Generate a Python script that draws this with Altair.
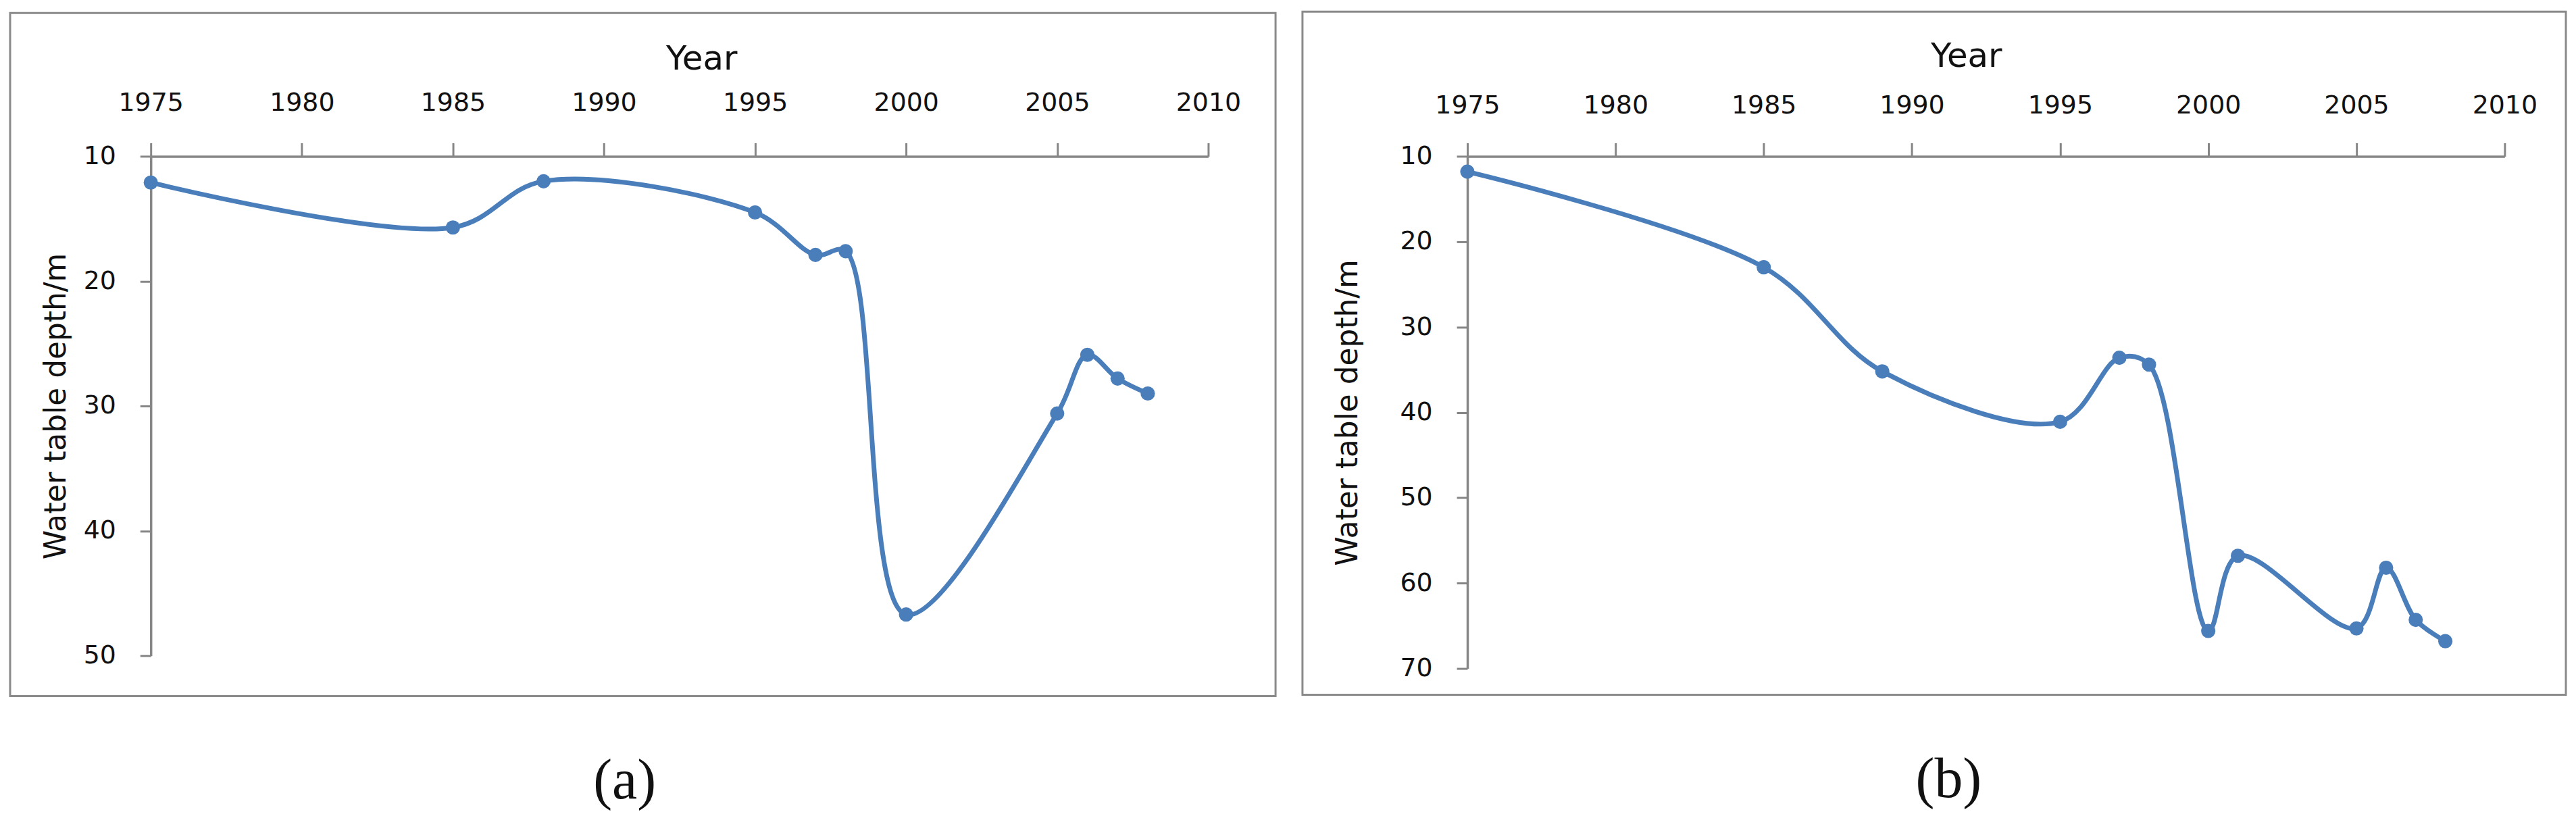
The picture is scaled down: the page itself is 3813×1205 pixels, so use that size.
import altair as alt
import pandas as pd

# ---- data ----
YEARS_A = [1975, 1985, 1988, 1995, 1997, 1998, 2000, 2005, 2006, 2007, 2008]
DEPTH_A = [12.1, 15.7, 12.0, 14.5, 17.9, 17.6, 46.7, 30.6, 25.9, 27.8, 29.0]

YEARS_B = [1975, 1985, 1989, 1995, 1997, 1998, 2000, 2001, 2005, 2006, 2007, 2008]
DEPTH_B = [11.8, 23.0, 35.2, 41.1, 33.6, 34.4, 65.6, 56.8, 65.3, 58.2, 64.3, 66.8]

X_TICKS = [1975, 1980, 1985, 1990, 1995, 2000, 2005, 2010]
Y_TICKS_A = [10, 20, 30, 40, 50]
Y_TICKS_B = [10, 20, 30, 40, 50, 60, 70]
PANEL_LABELS = ["(a)", "(b)"]

X_TITLE = "Year"
Y_TITLE = "Water table depth/m"

BLUE = "#4A7EBB"
AXIS_GRAY = "#868686"
FONT = "DejaVu Sans"


def panel(years, depth, ymax, yticks, w, h, frame, label_pos, label,
          xtitle_pos, ytitle_pad, xlabel_pad):
    df = pd.DataFrame({"Year": years, "Depth": depth})
    x = alt.X(
        "Year:Q",
        scale=alt.Scale(domain=[1975, 2010], nice=False, zero=False),
        axis=alt.Axis(
            orient="top", values=X_TICKS, format="d", title=X_TITLE,
            grid=False, domainColor=AXIS_GRAY, domainWidth=3.5,
            tickColor=AXIS_GRAY, tickWidth=3, tickSize=20,
            labelFont=FONT, labelFontSize=38, labelColor="#111111",
            labelPadding=xlabel_pad, labelFlush=False, labelOverlap=False,
            titleFont=FONT, titleFontSize=50, titleFontWeight="normal",
            titleColor="#111111", titleX=xtitle_pos[0], titleY=xtitle_pos[1],
            titleBaseline="alphabetic", titleAlign="center",
        ),
    )
    y = alt.Y(
        "Depth:Q",
        scale=alt.Scale(domain=[10, ymax], reverse=True, nice=False, zero=False),
        axis=alt.Axis(
            values=yticks, title=Y_TITLE, grid=False,
            domainColor=AXIS_GRAY, domainWidth=3.5,
            tickColor=AXIS_GRAY, tickWidth=3, tickSize=16,
            labelFont=FONT, labelFontSize=38, labelColor="#111111",
            labelPadding=36, labelFlush=False,
            titleFont=FONT, titleFontSize=44, titleFontWeight="normal",
            titleColor="#111111", titlePadding=ytitle_pad,
        ),
    )
    line = alt.Chart(df).mark_line(
        interpolate="catmull-rom", color=BLUE, strokeWidth=7
    ).encode(x=x, y=y)
    pts = alt.Chart(df).mark_circle(size=450, color=BLUE, opacity=1).encode(
        x="Year:Q", y="Depth:Q"
    )
    fr = alt.Chart(pd.DataFrame({"k": [0]})).mark_rect(
        fillOpacity=0, stroke="#8a8a8a", strokeWidth=3
    ).encode(
        x=alt.value(frame[0]), x2=alt.value(frame[1]),
        y=alt.value(frame[2]), y2=alt.value(frame[3]),
    )
    lab = alt.Chart(pd.DataFrame({"t": [label]})).mark_text(
        font="Liberation Serif", fontSize=84, align="center",
        baseline="alphabetic", color="#111111"
    ).encode(text="t:N", x=alt.value(label_pos[0]), y=alt.value(label_pos[1]))
    return alt.layer(fr, line, pts, lab).properties(width=w, height=h)


left = panel(YEARS_A, DEPTH_A, 50, Y_TICKS_A, 1571, 742,
             (-209, 1671, -213, 802), (704, 954), PANEL_LABELS[0],
             (818, -129), 18, 40)
right = panel(YEARS_B, DEPTH_B, 70, Y_TICKS_B, 1541, 761,
              (-245, 1632, -215, 800), (715, 952), PANEL_LABELS[1],
              (741, -133), 55, 36)

chart = alt.hconcat(left, right, spacing=36).properties(
    padding=5, background="white"
).configure_view(stroke="transparent")

chart.save("out.html", embed_options={"renderer": "svg", "actions": False})
